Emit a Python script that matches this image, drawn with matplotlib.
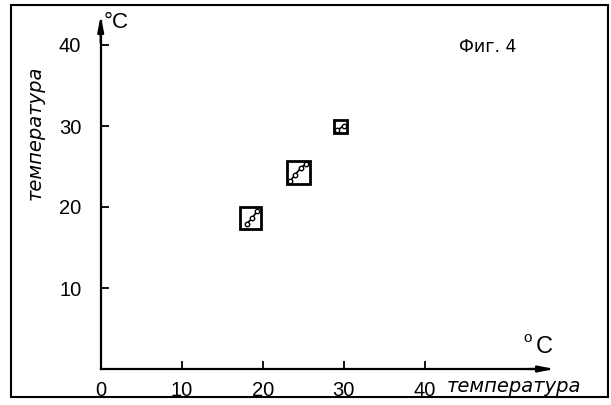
import numpy as np
import matplotlib
matplotlib.use("Agg")
import matplotlib.pyplot as plt
from matplotlib.patches import Rectangle

# measured groups (centre of each box, box size in degrees)
box_x = [18.5, 24.4, 29.6]
box_y = [18.6, 24.3, 29.9]
box_w = [2.7, 2.85, 1.6]

# individual readings inside each box
pts_x = [[18.0, 18.7, 19.3], [23.4, 24.0, 24.7, 25.3], [29.2, 30.0]]
pts_y = [[17.9, 18.6, 19.5], [23.2, 24.0, 24.8, 25.3], [29.5, 30.0]]

xticks = [0, 10, 20, 30, 40]
yticks = [10, 20, 30, 40]
axis_label = "температура"
fig_label = "Фиг. 4"

# pixel mapping of the drawing: origin at (100.7, 369), 8.1 px per degree
px = 8.1
x0, y0 = 100.7, 369
W, H = 611, 405

fig = plt.figure(figsize=(W / 100, H / 100), dpi=100)
ax = fig.add_axes([0, 0, 1, 1])
ax.set_xlim(-x0 / px, (W - x0) / px)
ax.set_ylim(-(H - y0) / px, y0 / px)

x_end = (557 - x0) / px
y_end = (y0 - 13) / px

for side in ["top", "right"]:
    ax.spines[side].set_visible(False)
ax.spines["left"].set_position(("data", 0))
ax.spines["bottom"].set_position(("data", 0))
ax.spines["left"].set_bounds(0, y_end - 1)
ax.spines["bottom"].set_bounds(0, x_end - 1)
ax.spines["left"].set_linewidth(1.6)
ax.spines["bottom"].set_linewidth(1.6)

ax.set_xticks(xticks)
ax.set_yticks(yticks)
tick_font = dict(family="Liberation Sans", size=14.5)
ax.set_xticklabels([str(t) for t in xticks], **tick_font)
ax.set_yticklabels([str(t) for t in yticks], **tick_font)
ax.tick_params(axis="x", direction="in", length=6, width=1.3, pad=9)
ax.tick_params(axis="y", direction="in", length=6, width=1.3, pad=14)
ax.xaxis.get_major_ticks()[0].tick1line.set_visible(False)

# arrow heads
arrow = dict(arrowstyle="-|>,head_length=0.9,head_width=0.18", color="black", lw=1.6)
ax.annotate("", xy=(x_end, 0), xytext=(x_end - 4, 0), arrowprops=arrow)
ax.annotate("", xy=(0, y_end), xytext=(0, y_end - 4), arrowprops=arrow)

# boxes and points
for i in range(len(box_x)):
    w = box_w[i]
    ax.add_patch(Rectangle((box_x[i] - w / 2, box_y[i] - w / 2), w, w,
                           fill=False, lw=2.0, ec="black"))
    ax.plot(pts_x[i], pts_y[i], "-o", color="black", lw=1.2,
            ms=3.2, mfc="white", mec="black", mew=1.0)

label_font = dict(family="DejaVu Sans", style="italic", size=14)
ax.text((447 - x0) / px, (y0 - 386.5) / px, axis_label, ha="left", va="center",
        **label_font)
ax.text((35 - x0) / px, (y0 - 133) / px, axis_label, ha="center", va="center",
        rotation=90, **label_font)

ax.text((104 - x0) / px, (y0 - 23) / px, "°C", ha="left", va="center",
        family="Liberation Sans", size=16)
ax.text((523 - x0) / px, (y0 - 338) / px, "o", ha="left", va="center",
        family="Liberation Sans", size=11)
ax.text((536 - x0) / px, (y0 - 347) / px, "C", ha="left", va="center",
        family="Liberation Sans", size=17)
ax.text((488 - x0) / px, (y0 - 47) / px, fig_label, ha="center", va="center",
        family="DejaVu Sans", size=12.5)

# outer frame
fig.add_artist(Rectangle((11 / W, (H - 397) / H), (608 - 11) / W, (397 - 5) / H,
                         transform=fig.transFigure, fill=False, lw=1.5, ec="black"))

fig.savefig("out.png", dpi=100)
